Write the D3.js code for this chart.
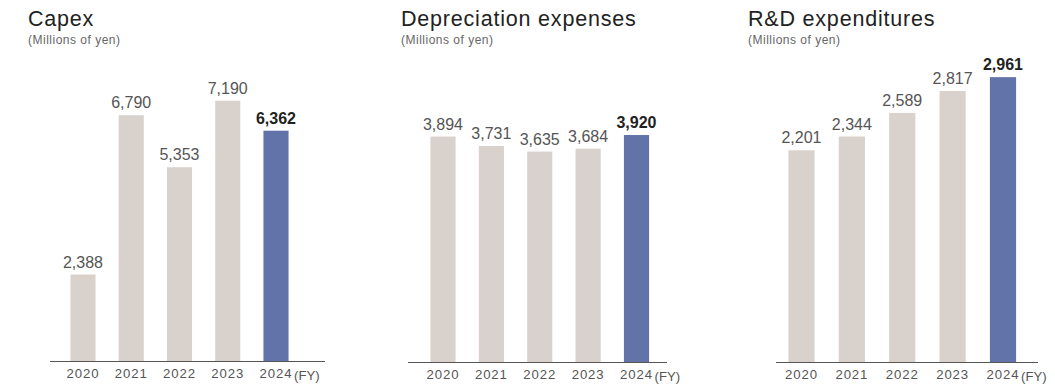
<!DOCTYPE html>
<html><head><meta charset="utf-8">
<script src="https://cdn.jsdelivr.net/npm/d3@7"></script>
<style>
body{margin:0;background:#fff;}
svg{display:block;}
text{font-family:"Liberation Sans",Arial,sans-serif;}
</style></head>
<body><svg id="c" width="1055" height="388"></svg>
<script>
const years = ["2020","2021","2022","2023","2024"];
const capex = [2388, 6790, 5353, 7190, 6362];
const depreciation = [3894, 3731, 3635, 3684, 3920];
const rnd = [2201, 2344, 2589, 2817, 2961];
const titles = ["Capex","Depreciation expenses","R&D expenditures"];
const unitLabel = "(Millions of yen)";
const fyLabel = "(FY)";

const panels = [
  {title:titles[0], values:capex, tx:28, axis:[50,325], centers:[83,276], base:361, pxPerUnit:0.0362},
  {title:titles[1], values:depreciation, tx:401, axis:[408,667], centers:[443,636.5], base:362, pxPerUnit:0.0579},
  {title:titles[2], values:rnd, tx:748, axis:[776,1038], centers:[801.5,1003], base:362, pxPerUnit:0.0962}
];
const svg = d3.select("#c");
const fmt = d3.format(",");
panels.forEach(p=>{
  const g = svg.append("g");
  g.append("text").attr("x",p.tx).attr("y",26).attr("font-size",21.5).style("letter-spacing","0.8px").attr("fill","#222").text(p.title);
  g.append("text").attr("x",p.tx).attr("y",44).attr("font-size",12).style("letter-spacing","0.5px").attr("fill","#666").text(unitLabel);
  const step = (p.centers[1]-p.centers[0])/(years.length-1);
  const x = d3.scaleBand().domain(years).range([p.centers[0]-step/2, p.centers[1]+step/2]).paddingInner(0.48).paddingOuter(0.24);
  const maxV = d3.max(p.values);
  const y = d3.scaleLinear().domain([0, maxV]).range([p.base, p.base - maxV*p.pxPerUnit]);
  g.selectAll("rect").data(p.values).join("rect")
    .attr("x",(d,i)=>x(years[i])).attr("width",x.bandwidth())
    .attr("y",d=>y(d)).attr("height",d=>y(0)-y(d))
    .attr("fill",(d,i)=>i===years.length-1?"#6273a9":"#d9d2cc");
  g.selectAll("text.v").data(p.values).join("text").attr("class","v")
    .attr("x",(d,i)=>x(years[i])+x.bandwidth()/2).attr("y",d=>y(d)-7)
    .attr("text-anchor","middle").attr("font-size",16)
    .attr("font-weight",(d,i)=>i===years.length-1?700:400)
    .attr("fill",(d,i)=>i===years.length-1?"#222":"#555")
    .text(d=>fmt(d));
  g.append("line").attr("x1",p.axis[0]).attr("x2",p.axis[1]).attr("y1",p.base+0.5).attr("y2",p.base+0.5)
    .attr("stroke","#555").attr("stroke-width",1.2);
  const ax = g.append("g").attr("transform",`translate(0,${p.base})`)
    .call(d3.axisBottom(x).tickSize(0).tickPadding(8));
  ax.select(".domain").remove();
  ax.selectAll("text").attr("font-size",13.2).attr("fill","#555").style("letter-spacing","0.9px")
    .attr("font-family","\"Liberation Sans\",Arial,sans-serif");
  g.append("text").attr("x",x(years[years.length-1])+x.bandwidth()/2+18).attr("y",p.base+19)
    .attr("font-size",13.2).attr("fill","#555").text(fyLabel);
});
</script></body></html>
